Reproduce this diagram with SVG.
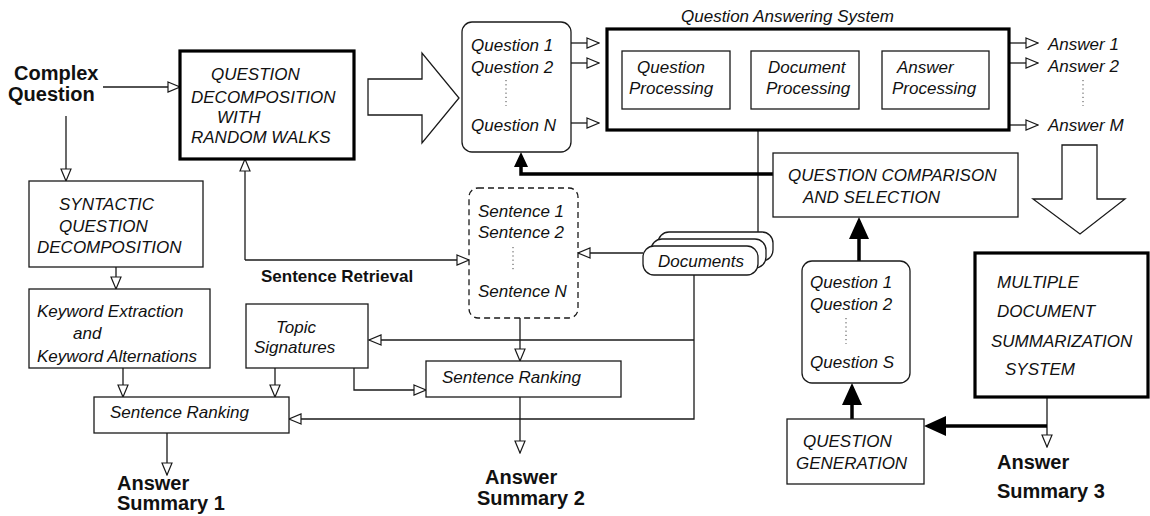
<svg xmlns="http://www.w3.org/2000/svg" width="1150" height="516" viewBox="0 0 1150 516">
<style>
.box{fill:#fff;stroke:#1a1a1a;stroke-width:1.3}
.thick{fill:#fff;stroke:#000;stroke-width:3.2}
.ln{fill:none;stroke:#1a1a1a;stroke-width:1.3}
.tl{fill:none;stroke:#000;stroke-width:3.5}
.dots{fill:none;stroke:#444;stroke-width:1;stroke-dasharray:1.2,3}
text{font-family:"Liberation Sans",Arial,sans-serif;fill:#111}
.it{font-size:17px;font-style:italic}
.bd{font-size:20px;font-weight:bold}
.bs{font-size:17px;font-weight:bold}
</style>
<defs>
<marker id="open" markerUnits="userSpaceOnUse" viewBox="0 0 14 12" markerWidth="14" markerHeight="12" refX="13" refY="6" orient="auto">
<path d="M1,1 L13,6 L1,11 z" fill="#fff" stroke="#1a1a1a" stroke-width="1.2"/>
</marker>
<marker id="fill" markerUnits="userSpaceOnUse" viewBox="0 0 22 20" markerWidth="22" markerHeight="20" refX="18" refY="10" orient="auto">
<path d="M0,0 L22,10 L0,20 z" fill="#000"/>
</marker>
<marker id="fills" markerUnits="userSpaceOnUse" viewBox="0 0 15 14" markerWidth="15" markerHeight="14" refX="11" refY="7" orient="auto">
<path d="M0,0 L15,7 L0,14 z" fill="#000"/>
</marker>
</defs>

<g id="connectors">
<path class="ln" d="M103,87 L180,87" marker-end="url(#open)"/>
<path class="ln" d="M66,116 L66,181" marker-end="url(#open)"/>
<path class="ln" d="M116,267 L116,289" marker-end="url(#open)"/>
<path class="ln" d="M123,368 L123,397" marker-end="url(#open)"/>
<path class="ln" d="M275,368 L275,397" marker-end="url(#open)"/>
<path class="ln" d="M167,433 L167,475" marker-end="url(#open)"/>
<path class="ln" d="M520,318 L520,361" marker-end="url(#open)"/>
<path class="ln" d="M520,397 L520,453" marker-end="url(#open)"/>
<path class="ln" d="M245,260 L245,159" marker-end="url(#open)"/>
<path class="ln" d="M245,260 L469,260" marker-end="url(#open)"/>
<path class="ln" d="M643,253 L578,253" marker-end="url(#open)"/>
<path class="ln" d="M694,275 L694,419 L289,419" marker-end="url(#open)"/>
<path class="ln" d="M694,340 L369,340" marker-end="url(#open)"/>
<path class="ln" d="M354,368 L354,390 L426,390" marker-end="url(#open)"/>
<path class="ln" d="M571,43 L599,43" marker-end="url(#open)"/>
<path class="ln" d="M571,63 L599,63" marker-end="url(#open)"/>
<path class="ln" d="M571,123 L599,123" marker-end="url(#open)"/>
<path class="ln" d="M1009,43 L1038,43" marker-end="url(#open)"/>
<path class="ln" d="M1009,63 L1038,63" marker-end="url(#open)"/>
<path class="ln" d="M1009,125 L1038,125" marker-end="url(#open)"/>
<path class="ln" d="M758,232 L758,109" marker-end="url(#open)"/>
<path class="ln" d="M1047,397 L1047,447" marker-end="url(#open)"/>
<path class="tl" d="M773,174 L521,174 L521,156" marker-end="url(#fills)"/>
<path class="tl" d="M859,261 L859,221" marker-end="url(#fill)"/>
<path class="tl" d="M852,419 L852,387" marker-end="url(#fill)"/>
<path class="tl" d="M1047,426 L928,426" marker-end="url(#fill)"/>
</g>

<g id="big-arrow-right">
<polygon class="box" points="368,79 422,79 422,53 459,98 422,143 422,115 368,115"/>
</g>
<g id="big-arrow-down">
<polygon class="box" points="1062,145 1097,145 1097,199 1125,199 1080,234 1033,199 1062,199"/>
</g>

<g id="complex-question">
<text class="bd" x="14" y="80">Complex</text>
<text class="bd" x="8" y="101">Question</text>
</g>

<g id="qd-random-walks">
<rect class="thick" x="180" y="51" width="174" height="108"/>
<text class="it" x="211" y="80">QUESTION</text>
<text class="it" x="191" y="103">DECOMPOSITION</text>
<text class="it" x="217" y="123">WITH</text>
<text class="it" x="191" y="143">RANDOM WALKS</text>
</g>

<g id="syntactic">
<rect class="box" x="29" y="181" width="174" height="86"/>
<text class="it" x="59" y="210">SYNTACTIC</text>
<text class="it" x="59" y="232">QUESTION</text>
<text class="it" x="37" y="253">DECOMPOSITION</text>
</g>

<g id="keyword">
<rect class="box" x="29" y="289" width="181" height="79"/>
<text class="it" x="37" y="317">Keyword Extraction</text>
<text class="it" x="73" y="339">and</text>
<text class="it" x="37" y="362">Keyword Alternations</text>
</g>

<g id="sentence-ranking-1">
<rect class="box" x="94" y="397" width="195" height="36"/>
<text class="it" x="110" y="418">Sentence Ranking</text>
</g>

<g id="topic-signatures">
<rect class="box" x="246" y="304" width="122" height="64"/>
<text class="it" x="276" y="333">Topic</text>
<text class="it" x="254" y="353">Signatures</text>
</g>

<g id="sentence-ranking-2">
<rect class="box" x="426" y="361" width="195" height="36"/>
<text class="it" x="442" y="383">Sentence Ranking</text>
</g>

<g id="answer-summary-1">
<text class="bd" x="117" y="490">Answer</text>
<text class="bd" x="117" y="510">Summary 1</text>
</g>
<g id="answer-summary-2">
<text class="bd" x="485" y="484">Answer</text>
<text class="bd" x="477" y="505">Summary 2</text>
</g>
<g id="answer-summary-3">
<text class="bd" x="997" y="469">Answer</text>
<text class="bd" x="997" y="498">Summary 3</text>
</g>

<g id="sentence-retrieval-label">
<text class="bs" x="261" y="282">Sentence Retrieval</text>
</g>

<g id="sentences">
<rect class="box" x="469" y="188" width="109" height="130" rx="9" style="stroke-dasharray:6,4"/>
<text class="it" x="478" y="217">Sentence 1</text>
<text class="it" x="478" y="238">Sentence 2</text>
<path class="dots" d="M513,247 L513,272"/>
<text class="it" x="478" y="297">Sentence N</text>
</g>

<g id="documents">
<rect class="box" x="658" y="232" width="115" height="29" rx="11"/>
<rect class="box" x="651" y="239" width="115" height="29" rx="11"/>
<rect class="box" x="643" y="246" width="115" height="29" rx="11"/>
<text class="it" x="658" y="267">Documents</text>
</g>

<g id="questions-n">
<rect class="box" x="462" y="22" width="109" height="130" rx="10"/>
<text class="it" x="471" y="51">Question 1</text>
<text class="it" x="471" y="73">Question 2</text>
<path class="dots" d="M506,80 L506,106"/>
<text class="it" x="471" y="131">Question N</text>
</g>

<g id="qa-system">
<text class="it" x="681" y="22">Question Answering System</text>
<rect class="thick" x="607" y="29" width="402" height="101"/>
</g>
<g id="question-processing">
<rect class="box" x="622" y="51" width="108" height="58"/>
<text class="it" x="637" y="73">Question</text>
<text class="it" x="629" y="94">Processing</text>
</g>
<g id="document-processing">
<rect class="box" x="751" y="51" width="108" height="58"/>
<text class="it" x="768" y="73">Document</text>
<text class="it" x="766" y="94">Processing</text>
</g>
<g id="answer-processing">
<rect class="box" x="882" y="51" width="107" height="58"/>
<text class="it" x="897" y="73">Answer</text>
<text class="it" x="892" y="94">Processing</text>
</g>

<g id="answers">
<text class="it" x="1048" y="50">Answer 1</text>
<text class="it" x="1048" y="72">Answer 2</text>
<path class="dots" d="M1083,80 L1083,106"/>
<text class="it" x="1048" y="131">Answer M</text>
</g>

<g id="question-comparison">
<rect class="box" x="773" y="153" width="245" height="64"/>
<text class="it" x="788" y="181">QUESTION COMPARISON</text>
<text class="it" x="803" y="203">AND SELECTION</text>
</g>

<g id="questions-s">
<rect class="box" x="802" y="261" width="108" height="122" rx="10"/>
<text class="it" x="810" y="288">Question 1</text>
<text class="it" x="810" y="310">Question 2</text>
<path class="dots" d="M846,318 L846,344"/>
<text class="it" x="810" y="368">Question S</text>
</g>

<g id="question-generation">
<rect class="box" x="787" y="419" width="137" height="65"/>
<text class="it" x="803" y="447">QUESTION</text>
<text class="it" x="796" y="469">GENERATION</text>
</g>

<g id="mds">
<rect class="thick" x="975" y="253" width="173" height="144"/>
<text class="it" x="997" y="288">MULTIPLE</text>
<text class="it" x="997" y="317">DOCUMENT</text>
<text class="it" x="991" y="347">SUMMARIZATION</text>
<text class="it" x="1005" y="375">SYSTEM</text>
</g>
</svg>
